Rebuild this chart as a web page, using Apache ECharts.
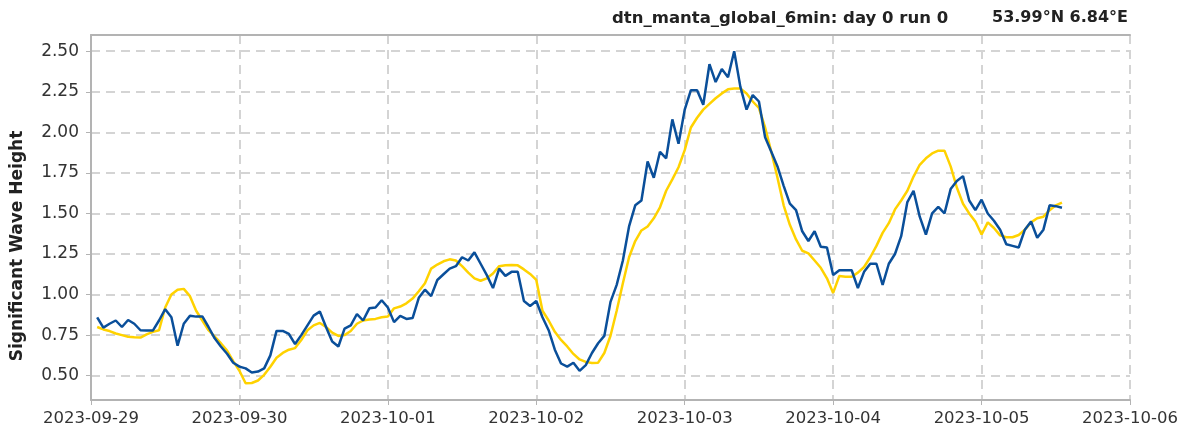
<!DOCTYPE html>
<html>
<head>
<meta charset="utf-8">
<script src="https://cdn.jsdelivr.net/npm/echarts@6/dist/echarts.min.js"></script>
<style>
  html, body { margin: 0; padding: 0; background: #fff; }
  #main { width: 1193px; height: 429px; }
</style>
</head>
<body>
<div id="main"></div>
<script>
// hours since 2023-09-29 00:00, first sample at hour 1, one sample per hour
var startHour = 1;
var dayLabels = ['2023-09-29', '2023-09-30', '2023-10-01', '2023-10-02', '2023-10-03', '2023-10-04', '2023-10-05', '2023-10-06'];
var yTicks = [0.5, 0.75, 1.0, 1.25, 1.5, 1.75, 2.0, 2.25, 2.5];

// blue: measured wave height
var blueVals = [
  0.86, 0.796, 0.82, 0.84, 0.80, 0.843, 0.82, 0.78, 0.778, 0.778,
  0.84, 0.91, 0.86, 0.685, 0.82, 0.87, 0.864, 0.865, 0.80, 0.73,
  0.68, 0.635, 0.58, 0.556, 0.545, 0.52, 0.525, 0.545, 0.625, 0.776,
  0.776, 0.757, 0.695, 0.75, 0.81, 0.87, 0.895, 0.80, 0.71, 0.68,
  0.79, 0.81, 0.88, 0.84, 0.915, 0.92, 0.965, 0.92, 0.83, 0.868,
  0.85, 0.855, 0.98, 1.03, 0.99, 1.09, 1.125, 1.16, 1.175, 1.23,
  1.21, 1.26, 1.19, 1.12, 1.04, 1.16, 1.115, 1.14, 1.14, 0.96,
  0.93, 0.96, 0.86, 0.78, 0.66, 0.575, 0.556, 0.58, 0.53, 0.565,
  0.64, 0.70, 0.745, 0.955, 1.06, 1.21, 1.42, 1.55, 1.58, 1.82,
  1.72, 1.88, 1.84, 2.08, 1.93, 2.14, 2.26, 2.26, 2.17, 2.42,
  2.31, 2.39, 2.34, 2.50, 2.28, 2.14, 2.23, 2.19, 1.97, 1.88,
  1.79, 1.67, 1.56, 1.52, 1.39, 1.33, 1.39, 1.295, 1.29, 1.12,
  1.15, 1.15, 1.15, 1.04, 1.14, 1.19, 1.19, 1.06, 1.19, 1.25,
  1.36, 1.57, 1.64, 1.48, 1.37, 1.50, 1.54, 1.50, 1.65, 1.70,
  1.73, 1.58, 1.52, 1.585, 1.50, 1.455, 1.40, 1.31, 1.30, 1.29,
  1.40, 1.45, 1.35, 1.40, 1.55, 1.545, 1.535
];

// yellow: model wave height
var yellowVals = [
  0.80, 0.785, 0.775, 0.76, 0.75, 0.74, 0.737, 0.735, 0.755, 0.77,
  0.78, 0.92, 1.00, 1.03, 1.035, 0.99, 0.90, 0.84, 0.78, 0.74,
  0.70, 0.655, 0.59, 0.53, 0.453, 0.455, 0.47, 0.505, 0.555, 0.61,
  0.64, 0.66, 0.67, 0.72, 0.78, 0.81, 0.825, 0.80, 0.765, 0.745,
  0.75, 0.775, 0.82, 0.84, 0.846, 0.85, 0.86, 0.864, 0.915, 0.926,
  0.946, 0.975, 1.02, 1.07, 1.16, 1.185, 1.205, 1.217, 1.21, 1.175,
  1.135, 1.10, 1.085, 1.10, 1.13, 1.175, 1.18, 1.182, 1.18, 1.155,
  1.127, 1.09, 0.90, 0.84, 0.77, 0.72, 0.68, 0.634, 0.60, 0.585,
  0.578, 0.58, 0.64, 0.746, 0.90, 1.07, 1.23, 1.33, 1.395, 1.42,
  1.47, 1.538, 1.64, 1.71, 1.785, 1.89, 2.03, 2.09, 2.14, 2.175,
  2.21, 2.24, 2.265, 2.27, 2.27, 2.24, 2.19, 2.15, 2.03, 1.88,
  1.72, 1.55, 1.43, 1.34, 1.27, 1.254, 1.21, 1.165, 1.10, 1.01,
  1.115, 1.11, 1.11, 1.135, 1.17, 1.23, 1.30, 1.38, 1.44, 1.525,
  1.58, 1.64, 1.727, 1.80, 1.84, 1.87, 1.887, 1.887, 1.79, 1.66,
  1.56, 1.50, 1.45, 1.37, 1.445, 1.41, 1.365, 1.353, 1.353, 1.367,
  1.40, 1.445, 1.47, 1.48, 1.52, 1.55, 1.567
];

function toPairs(vals) {
  var out = [];
  for (var i = 0; i < vals.length; i++) {
    out.push([startHour + i, vals[i]]);
  }
  return out;
}

var myChart = echarts.init(document.getElementById('main'));
var gridColor = '#d4d4d4';
var axisColor = '#b3b3b3';
var boldText = { fontFamily: 'DejaVu Sans', fontWeight: 'bold', fontSize: 16.5, color: '#222' };

myChart.setOption({
  animation: false,
  backgroundColor: '#fff',
  title: [
    { text: 'dtn_manta_global_6min: day 0 run 0', left: 612, top: 10, padding: 0, textStyle: boldText },
    {
      text: '53.99°N 6.84°E', right: 65, top: 10, padding: 0,
      textStyle: { fontFamily: 'DejaVu Sans', fontWeight: 'bold', fontSize: 16, color: '#222' }
    }
  ],
  graphic: [
    {
      type: 'text',
      x: 18, y: 246,
      rotation: Math.PI / 2,
      style: {
        text: 'Significant Wave Height',
        fontFamily: 'DejaVu Sans', fontWeight: 'bold', fontSize: 17, fill: '#222',
        align: 'center', verticalAlign: 'middle'
      }
    }
  ],
  grid: { left: 91, right: 63, top: 35, bottom: 29, containLabel: false },
  xAxis: [
    {
      type: 'value',
      min: 0, max: 168, interval: 24,
      axisLine: { show: true, lineStyle: { color: axisColor, width: 2 } },
      axisTick: { show: true, length: 5, lineStyle: { color: axisColor } },
      axisLabel: {
        margin: 10,
        fontFamily: 'DejaVu Sans', fontSize: 16.5, color: '#333',
        formatter: function (v) { return dayLabels[Math.round(v / 24)]; }
      },
      splitLine: { show: true, lineStyle: { color: gridColor, width: 2, type: [9, 6] } }
    },
    {
      type: 'value', position: 'top',
      min: 0, max: 168,
      axisLine: { show: true, lineStyle: { color: axisColor, width: 2 } },
      axisTick: { show: false }, axisLabel: { show: false }, splitLine: { show: false }
    }
  ],
  yAxis: {
    type: 'value',
    min: 0.35, max: 2.6,
    axisLine: { show: true, lineStyle: { color: axisColor, width: 2 } },
    axisTick: { show: true, length: 5, customValues: yTicks, lineStyle: { color: axisColor } },
    axisLabel: {
      customValues: yTicks,
      margin: 12,
      fontFamily: 'DejaVu Sans', fontSize: 17, color: '#333',
      formatter: function (v) { return v.toFixed(2); }
    },
    splitLine: { show: true, lineStyle: { color: gridColor, width: 2, type: [9, 6] } }
  },
  series: [
    {
      name: 'model',
      type: 'line',
      showSymbol: false,
      data: toPairs(yellowVals),
      lineStyle: { color: '#ffd200', width: 2.5 },
      z: 2
    },
    {
      name: 'observed',
      type: 'line',
      showSymbol: false,
      data: toPairs(blueVals),
      lineStyle: { color: '#0a4f9a', width: 2.5 },
      z: 3
    }
  ]
});
</script>
</body>
</html>
